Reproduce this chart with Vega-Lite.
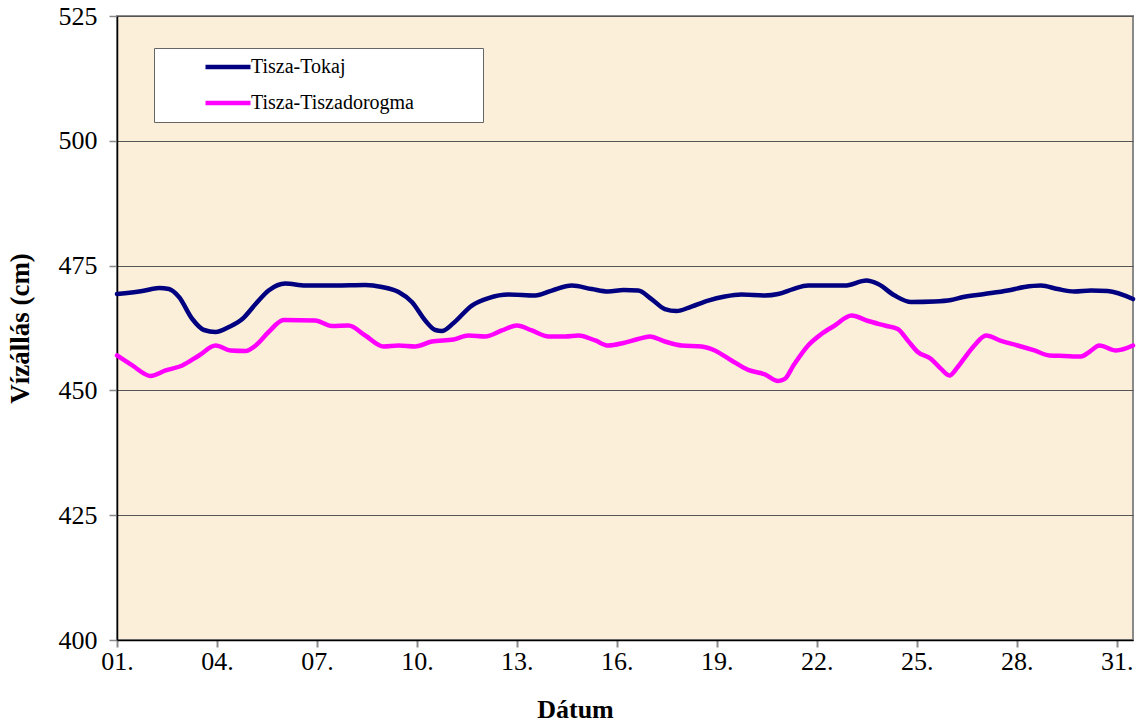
{
  "$schema": "https://vega.github.io/schema/vega-lite/v6.json",
  "width": 1016,
  "height": 624,
  "autosize": "none",
  "padding": {"left": 117, "top": 16, "right": 6, "bottom": 88},
  "background": "white",
  "config": {
    "font": "Liberation Serif",
    "view": {"fill": "#FBEFD9", "stroke": "#8a8a8a", "strokeWidth": 2}
  },
  "datasets": {
    "vals": [
      {"nap": 1, "szint": 469.3, "allomas": "Tisza-Tokaj"},
      {"nap": 1.76, "szint": 469.9, "allomas": "Tisza-Tokaj"},
      {"nap": 2.26, "szint": 470.5, "allomas": "Tisza-Tokaj"},
      {"nap": 2.56, "szint": 470.3, "allomas": "Tisza-Tokaj"},
      {"nap": 2.86, "szint": 468.7, "allomas": "Tisza-Tokaj"},
      {"nap": 3.26, "szint": 464.3, "allomas": "Tisza-Tokaj"},
      {"nap": 3.61, "szint": 462.1, "allomas": "Tisza-Tokaj"},
      {"nap": 3.96, "szint": 461.7, "allomas": "Tisza-Tokaj"},
      {"nap": 4.36, "szint": 462.7, "allomas": "Tisza-Tokaj"},
      {"nap": 4.76, "szint": 464.3, "allomas": "Tisza-Tokaj"},
      {"nap": 5.16, "szint": 467.3, "allomas": "Tisza-Tokaj"},
      {"nap": 5.55, "szint": 470.0, "allomas": "Tisza-Tokaj"},
      {"nap": 6.05, "szint": 471.4, "allomas": "Tisza-Tokaj"},
      {"nap": 6.65, "szint": 471.0, "allomas": "Tisza-Tokaj"},
      {"nap": 7.55, "szint": 471.0, "allomas": "Tisza-Tokaj"},
      {"nap": 8.45, "szint": 471.1, "allomas": "Tisza-Tokaj"},
      {"nap": 8.95, "szint": 470.7, "allomas": "Tisza-Tokaj"},
      {"nap": 9.45, "szint": 469.7, "allomas": "Tisza-Tokaj"},
      {"nap": 9.85, "szint": 467.7, "allomas": "Tisza-Tokaj"},
      {"nap": 10.25, "szint": 464.0, "allomas": "Tisza-Tokaj"},
      {"nap": 10.55, "szint": 462.1, "allomas": "Tisza-Tokaj"},
      {"nap": 10.75, "szint": 461.9, "allomas": "Tisza-Tokaj"},
      {"nap": 11.1, "szint": 463.5, "allomas": "Tisza-Tokaj"},
      {"nap": 11.65, "szint": 467.0, "allomas": "Tisza-Tokaj"},
      {"nap": 12.15, "szint": 468.5, "allomas": "Tisza-Tokaj"},
      {"nap": 12.75, "szint": 469.2, "allomas": "Tisza-Tokaj"},
      {"nap": 13.55, "szint": 469.0, "allomas": "Tisza-Tokaj"},
      {"nap": 14.05, "szint": 470.0, "allomas": "Tisza-Tokaj"},
      {"nap": 14.65, "szint": 471.0, "allomas": "Tisza-Tokaj"},
      {"nap": 15.25, "szint": 470.3, "allomas": "Tisza-Tokaj"},
      {"nap": 15.74, "szint": 469.8, "allomas": "Tisza-Tokaj"},
      {"nap": 16.2, "szint": 470.1, "allomas": "Tisza-Tokaj"},
      {"nap": 16.64, "szint": 470.0, "allomas": "Tisza-Tokaj"},
      {"nap": 17.04, "szint": 468.3, "allomas": "Tisza-Tokaj"},
      {"nap": 17.44, "szint": 466.3, "allomas": "Tisza-Tokaj"},
      {"nap": 17.79, "szint": 465.9, "allomas": "Tisza-Tokaj"},
      {"nap": 18.24, "szint": 466.8, "allomas": "Tisza-Tokaj"},
      {"nap": 18.74, "szint": 468.0, "allomas": "Tisza-Tokaj"},
      {"nap": 19.24, "szint": 468.8, "allomas": "Tisza-Tokaj"},
      {"nap": 19.74, "szint": 469.2, "allomas": "Tisza-Tokaj"},
      {"nap": 20.44, "szint": 469.0, "allomas": "Tisza-Tokaj"},
      {"nap": 20.84, "szint": 469.3, "allomas": "Tisza-Tokaj"},
      {"nap": 21.29, "szint": 470.3, "allomas": "Tisza-Tokaj"},
      {"nap": 21.74, "szint": 471.0, "allomas": "Tisza-Tokaj"},
      {"nap": 22.34, "szint": 471.0, "allomas": "Tisza-Tokaj"},
      {"nap": 22.84, "szint": 471.0, "allomas": "Tisza-Tokaj"},
      {"nap": 23.49, "szint": 472.0, "allomas": "Tisza-Tokaj"},
      {"nap": 23.84, "szint": 471.3, "allomas": "Tisza-Tokaj"},
      {"nap": 24.34, "szint": 469.0, "allomas": "Tisza-Tokaj"},
      {"nap": 24.83, "szint": 467.7, "allomas": "Tisza-Tokaj"},
      {"nap": 25.53, "szint": 467.8, "allomas": "Tisza-Tokaj"},
      {"nap": 26.03, "szint": 468.1, "allomas": "Tisza-Tokaj"},
      {"nap": 26.4, "szint": 468.7, "allomas": "Tisza-Tokaj"},
      {"nap": 27.03, "szint": 469.3, "allomas": "Tisza-Tokaj"},
      {"nap": 27.73, "szint": 470.0, "allomas": "Tisza-Tokaj"},
      {"nap": 28.23, "szint": 470.7, "allomas": "Tisza-Tokaj"},
      {"nap": 28.73, "szint": 471.0, "allomas": "Tisza-Tokaj"},
      {"nap": 29.23, "szint": 470.3, "allomas": "Tisza-Tokaj"},
      {"nap": 29.73, "szint": 469.8, "allomas": "Tisza-Tokaj"},
      {"nap": 30.23, "szint": 470.0, "allomas": "Tisza-Tokaj"},
      {"nap": 30.73, "szint": 469.9, "allomas": "Tisza-Tokaj"},
      {"nap": 31.49, "szint": 468.3, "allomas": "Tisza-Tokaj"},
      {"nap": 1, "szint": 457.0, "allomas": "Tisza-Tiszadorogma"},
      {"nap": 1.46, "szint": 455.0, "allomas": "Tisza-Tiszadorogma"},
      {"nap": 2.01, "szint": 452.9, "allomas": "Tisza-Tiszadorogma"},
      {"nap": 2.46, "szint": 454.0, "allomas": "Tisza-Tiszadorogma"},
      {"nap": 2.96, "szint": 455.0, "allomas": "Tisza-Tiszadorogma"},
      {"nap": 3.46, "szint": 457.0, "allomas": "Tisza-Tiszadorogma"},
      {"nap": 3.96, "szint": 459.0, "allomas": "Tisza-Tiszadorogma"},
      {"nap": 4.41, "szint": 458.0, "allomas": "Tisza-Tiszadorogma"},
      {"nap": 4.86, "szint": 457.9, "allomas": "Tisza-Tiszadorogma"},
      {"nap": 5.16, "szint": 459.0, "allomas": "Tisza-Tiszadorogma"},
      {"nap": 5.55, "szint": 461.7, "allomas": "Tisza-Tiszadorogma"},
      {"nap": 6.0, "szint": 464.1, "allomas": "Tisza-Tiszadorogma"},
      {"nap": 6.95, "szint": 464.0, "allomas": "Tisza-Tiszadorogma"},
      {"nap": 7.45, "szint": 462.9, "allomas": "Tisza-Tiszadorogma"},
      {"nap": 7.95, "szint": 463.0, "allomas": "Tisza-Tiszadorogma"},
      {"nap": 8.45, "szint": 461.0, "allomas": "Tisza-Tiszadorogma"},
      {"nap": 9.0, "szint": 458.8, "allomas": "Tisza-Tiszadorogma"},
      {"nap": 9.45, "szint": 459.0, "allomas": "Tisza-Tiszadorogma"},
      {"nap": 9.95, "szint": 458.8, "allomas": "Tisza-Tiszadorogma"},
      {"nap": 10.45, "szint": 459.8, "allomas": "Tisza-Tiszadorogma"},
      {"nap": 11.1, "szint": 460.2, "allomas": "Tisza-Tiszadorogma"},
      {"nap": 11.55, "szint": 461.0, "allomas": "Tisza-Tiszadorogma"},
      {"nap": 12.05, "szint": 460.8, "allomas": "Tisza-Tiszadorogma"},
      {"nap": 12.55, "szint": 462.0, "allomas": "Tisza-Tiszadorogma"},
      {"nap": 13.0, "szint": 463.0, "allomas": "Tisza-Tiszadorogma"},
      {"nap": 13.45, "szint": 462.0, "allomas": "Tisza-Tiszadorogma"},
      {"nap": 13.95, "szint": 460.8, "allomas": "Tisza-Tiszadorogma"},
      {"nap": 14.45, "szint": 460.8, "allomas": "Tisza-Tiszadorogma"},
      {"nap": 14.85, "szint": 461.0, "allomas": "Tisza-Tiszadorogma"},
      {"nap": 15.35, "szint": 460.0, "allomas": "Tisza-Tiszadorogma"},
      {"nap": 15.74, "szint": 459.0, "allomas": "Tisza-Tiszadorogma"},
      {"nap": 16.2, "szint": 459.5, "allomas": "Tisza-Tiszadorogma"},
      {"nap": 16.64, "szint": 460.3, "allomas": "Tisza-Tiszadorogma"},
      {"nap": 16.99, "szint": 460.8, "allomas": "Tisza-Tiszadorogma"},
      {"nap": 17.44, "szint": 459.8, "allomas": "Tisza-Tiszadorogma"},
      {"nap": 17.94, "szint": 459.0, "allomas": "Tisza-Tiszadorogma"},
      {"nap": 18.54, "szint": 458.8, "allomas": "Tisza-Tiszadorogma"},
      {"nap": 18.94, "szint": 458.0, "allomas": "Tisza-Tiszadorogma"},
      {"nap": 19.44, "szint": 456.0, "allomas": "Tisza-Tiszadorogma"},
      {"nap": 19.94, "szint": 454.1, "allomas": "Tisza-Tiszadorogma"},
      {"nap": 20.44, "szint": 453.2, "allomas": "Tisza-Tiszadorogma"},
      {"nap": 20.84, "szint": 451.9, "allomas": "Tisza-Tiszadorogma"},
      {"nap": 21.04, "szint": 452.3, "allomas": "Tisza-Tiszadorogma"},
      {"nap": 21.3, "szint": 455.0, "allomas": "Tisza-Tiszadorogma"},
      {"nap": 21.74, "szint": 459.0, "allomas": "Tisza-Tiszadorogma"},
      {"nap": 22.14, "szint": 461.3, "allomas": "Tisza-Tiszadorogma"},
      {"nap": 22.54, "szint": 463.0, "allomas": "Tisza-Tiszadorogma"},
      {"nap": 23.04, "szint": 465.0, "allomas": "Tisza-Tiszadorogma"},
      {"nap": 23.54, "szint": 463.9, "allomas": "Tisza-Tiszadorogma"},
      {"nap": 24.04, "szint": 463.0, "allomas": "Tisza-Tiszadorogma"},
      {"nap": 24.43, "szint": 462.3, "allomas": "Tisza-Tiszadorogma"},
      {"nap": 24.73, "szint": 460.0, "allomas": "Tisza-Tiszadorogma"},
      {"nap": 25.03, "szint": 457.7, "allomas": "Tisza-Tiszadorogma"},
      {"nap": 25.43, "szint": 456.3, "allomas": "Tisza-Tiszadorogma"},
      {"nap": 25.73, "szint": 454.3, "allomas": "Tisza-Tiszadorogma"},
      {"nap": 25.98, "szint": 453.0, "allomas": "Tisza-Tiszadorogma"},
      {"nap": 26.23, "szint": 454.7, "allomas": "Tisza-Tiszadorogma"},
      {"nap": 26.4, "szint": 456.2, "allomas": "Tisza-Tiszadorogma"},
      {"nap": 26.73, "szint": 459.0, "allomas": "Tisza-Tiszadorogma"},
      {"nap": 27.08, "szint": 461.0, "allomas": "Tisza-Tiszadorogma"},
      {"nap": 27.53, "szint": 459.9, "allomas": "Tisza-Tiszadorogma"},
      {"nap": 28.03, "szint": 459.0, "allomas": "Tisza-Tiszadorogma"},
      {"nap": 28.53, "szint": 458.0, "allomas": "Tisza-Tiszadorogma"},
      {"nap": 28.98, "szint": 457.0, "allomas": "Tisza-Tiszadorogma"},
      {"nap": 29.43, "szint": 456.9, "allomas": "Tisza-Tiszadorogma"},
      {"nap": 29.93, "szint": 456.8, "allomas": "Tisza-Tiszadorogma"},
      {"nap": 30.18, "szint": 457.7, "allomas": "Tisza-Tiszadorogma"},
      {"nap": 30.48, "szint": 459.0, "allomas": "Tisza-Tiszadorogma"},
      {"nap": 30.98, "szint": 458.0, "allomas": "Tisza-Tiszadorogma"},
      {"nap": 31.49, "szint": 459.0, "allomas": "Tisza-Tiszadorogma"}
    ]
  },
  "data": {"name": "vals"},
  "mark": {"type": "line", "interpolate": "monotone", "strokeWidth": 4.5, "strokeCap": "round", "strokeJoin": "round"},
  "encoding": {
    "x": {
      "field": "nap",
      "type": "quantitative",
      "scale": {"domain": [1, 31.49], "nice": false, "zero": false},
      "axis": {
        "title": "Dátum",
        "titleFont": "Liberation Serif",
        "titleFontSize": 26,
        "titleFontWeight": "bold",
        "titleColor": "black",
        "titlePadding": 22,
        "titleX": 458,
        "titleAlign": "center",
        "values": [1, 4, 7, 10, 13, 16, 19, 22, 25, 28, 31],
        "labelExpr": "(datum.value < 10 ? '0' : '') + datum.value + '.'",
        "labelFont": "Liberation Serif",
        "labelFontSize": 26,
        "labelColor": "black",
        "labelPadding": 1,
        "labelFlush": false,
        "labelOverlap": false,
        "tickSize": 7,
        "tickColor": "#8a8a8a",
        "tickWidth": 2,
        "domainColor": "black",
        "domainWidth": 1.5,
        "grid": false
      }
    },
    "y": {
      "field": "szint",
      "type": "quantitative",
      "scale": {"domain": [400, 525], "nice": false, "zero": false},
      "axis": {
        "title": "Vízállás (cm)",
        "titleFont": "Liberation Serif",
        "titleFontSize": 27,
        "titleFontWeight": "bold",
        "titleColor": "black",
        "titlePadding": 24,
        "values": [400, 425, 450, 475, 500, 525],
        "labelFont": "Liberation Serif",
        "labelFontSize": 26,
        "labelColor": "black",
        "labelPadding": 12,
        "tickSize": 8,
        "tickColor": "#8a8a8a",
        "tickWidth": 1.5,
        "domainColor": "black",
        "domainWidth": 1.5,
        "grid": true,
        "gridColor": "#555555",
        "gridWidth": 1
      }
    },
    "color": {
      "field": "allomas",
      "type": "nominal",
      "scale": {"domain": ["Tisza-Tokaj", "Tisza-Tiszadorogma"], "range": ["#000080", "#FF00FF"]},
      "legend": {
        "title": null,
        "orient": "none",
        "legendX": 37,
        "legendY": 32,
        "direction": "vertical",
        "fillColor": "white",
        "strokeColor": "#666666",
        "padding": 9,
        "symbolType": "M-3,0H3",
        "symbolSize": 225,
        "symbolStrokeWidth": 4.5,
        "symbolOffset": 55,
        "labelOffset": 13,
        "rowPadding": 16,
        "labelFont": "Liberation Serif",
        "labelFontSize": 20,
        "labelColor": "black",
        "labelLimit": 500,
        "labelExpr": "datum.label + '\u2800\u2800\u2800\u2800'"
      }
    }
  }
}
